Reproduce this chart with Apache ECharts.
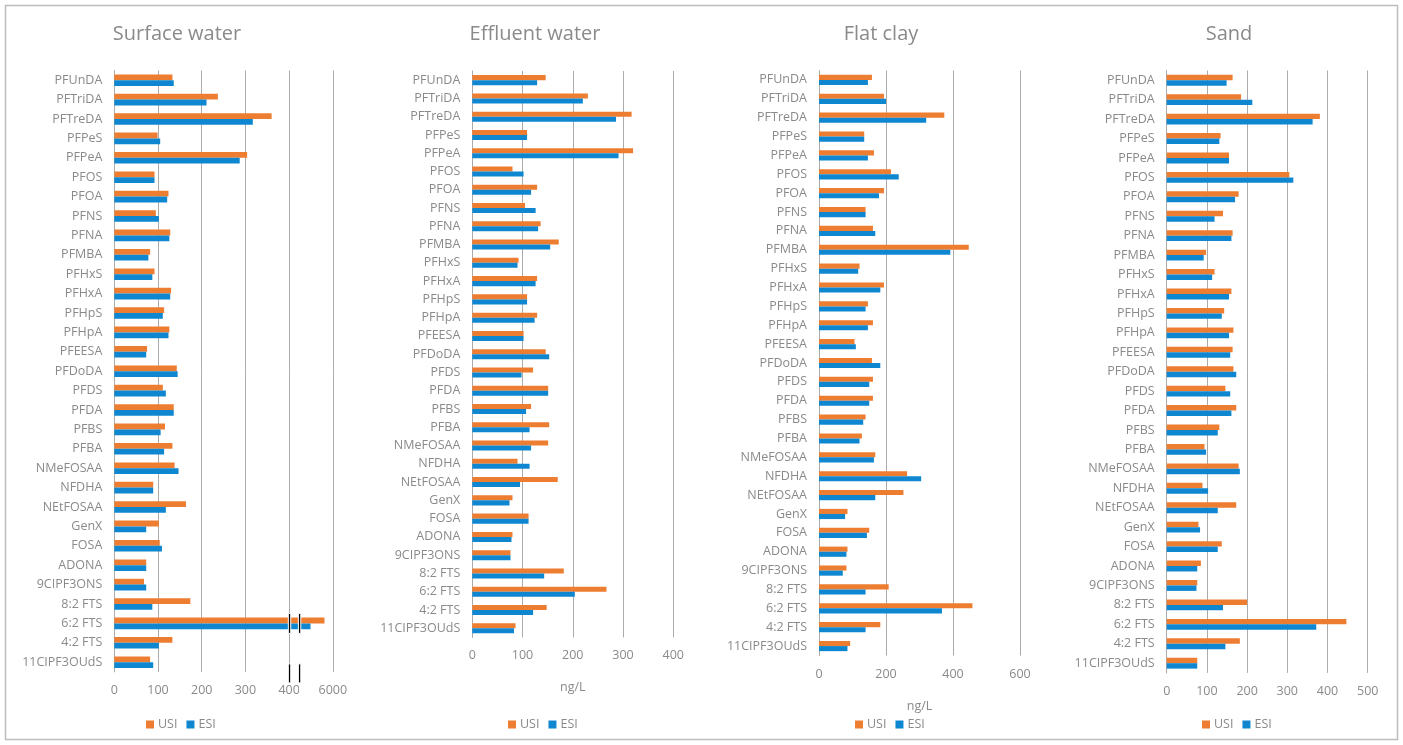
<!DOCTYPE html>
<html><head><meta charset="utf-8">
<script src="https://cdn.jsdelivr.net/npm/echarts@6.0.0/dist/echarts.min.js"></script>
<style>html,body{margin:0;padding:0;background:#fff}#c{width:1403px;height:745px}</style>
</head><body><div id="c"></div>
<script>
// ---- data ----
const categories = ['PFUnDA','PFTriDA','PFTreDA','PFPeS','PFPeA','PFOS','PFOA','PFNS','PFNA','PFMBA','PFHxS','PFHxA','PFHpS','PFHpA','PFEESA','PFDoDA','PFDS','PFDA','PFBS','PFBA','NMeFOSAA','NFDHA','NEtFOSAA','GenX','FOSA','ADONA','9CIPF3ONS','8:2 FTS','6:2 FTS','4:2 FTS','11CIPF3OUdS'];
const panelTitles = ['Surface water','Effluent water','Flat clay','Sand'];
const seriesNames = ['USI','ESI'];

// Surface water uses a broken axis: values above 400 are plotted on the compressed segment (500 = 6000)
const surfaceUSI = [133,237,360,99,304,92,124,95,128,82,92,130,114,126,75,143,111,136,116,133,138,89,164,102,104,73,68,174,481,133,82];
const surfaceESI = [136,211,317,105,287,92,121,102,126,78,87,128,111,124,73,145,118,136,106,114,147,89,118,73,109,73,73,87,449,102,89];
const effluentUSI = [146,230,317,109,320,80,129,105,136,172,92,129,109,129,102,146,121,151,117,153,151,90,170,80,112,80,76,182,267,148,86];
const effluentESI = [129,220,286,109,291,102,117,126,131,155,90,126,109,124,102,153,98,151,107,114,117,114,95,74,112,78,76,143,204,121,83];
const clayUSI = [158,194,374,135,164,215,194,139,161,447,121,194,146,161,106,158,161,161,139,128,168,263,252,85,150,85,82,208,458,183,93];
const clayESI = [146,200,320,135,146,238,179,139,168,392,117,183,139,146,110,183,150,150,132,121,164,305,168,78,143,82,71,139,367,139,85];
const sandUSI = [164,185,381,134,155,305,179,140,164,98,119,161,143,166,164,166,146,173,131,94,179,89,173,79,137,85,76,200,447,182,76];
const sandESI = [149,213,363,131,155,315,170,119,161,92,113,155,137,155,158,173,158,161,127,98,182,103,127,83,127,76,74,140,372,146,76];

const surfaceTicks = ['0','100','200','300','400','6000'];
const effluentTicks = ['0','100','200','300','400'];
const clayTicks = ['0','200','400','600'];
const sandTicks = ['0','100','200','300','400','500'];

// ---- styling / layout ----
const GREY = '#8a8a8a';
const GRID_LINE = '#ababab';
const ORANGE = '#ED7D31';
const BLUE = '#0E87D0';
const FONT = 'Open Sans';

const panels = [
  {title: panelTitles[0], usi: surfaceUSI, esi: surfaceESI, ticks: surfaceTicks, interval: 100,
   grid: {left: 114.3, top: 70.5, width: 218.5, height: 601.4}, gap: '40%', unit: '', cx: 177, legendLeft: 141},
  {title: panelTitles[1], usi: effluentUSI, esi: effluentESI, ticks: effluentTicks, interval: 100,
   grid: {left: 472.3, top: 71, width: 201, height: 566.4}, gap: '45%', unit: 'ng/L', cx: 535, legendLeft: 503},
  {title: panelTitles[2], usi: clayUSI, esi: clayESI, ticks: clayTicks, interval: 200,
   grid: {left: 819, top: 70.5, width: 201, height: 585}, gap: '46%', unit: 'ng/L', cx: 881, legendLeft: 850},
  {title: panelTitles[3], usi: sandUSI, esi: sandESI, ticks: sandTicks, interval: 100,
   grid: {left: 1166.7, top: 70.5, width: 201, height: 602.4}, gap: '44%', unit: '', cx: 1229, legendLeft: 1197}
];

const grids = [], xAxes = [], yAxes = [], series = [], legends = [], graphics = [];

graphics.push({type: 'rect', id: 'border', silent: true,
  shape: {x: 5.5, y: 5.5, width: 1392, height: 734},
  style: {fill: 'none', stroke: '#bdbdbd', lineWidth: 1.5}, z: 0});

panels.forEach((p, i) => {
  grids.push(Object.assign({containLabel: false}, p.grid));
  const ticks = p.ticks, iv = p.interval;
  xAxes.push({
    type: 'value', gridIndex: i, min: 0, max: iv * (ticks.length - 1), interval: iv,
    axisLine: {show: false}, axisTick: {show: false},
    splitLine: {show: true, lineStyle: {color: GRID_LINE, width: 1}},
    axisLabel: {color: GREY, fontFamily: FONT, fontSize: 12.5, margin: 12,
      formatter: v => ticks[Math.round(v / iv)]},
    name: p.unit, nameLocation: 'middle', nameGap: 44,
    nameTextStyle: {color: GREY, fontFamily: FONT, fontSize: 12.5}
  });
  yAxes.push({
    type: 'category', gridIndex: i, data: categories, inverse: true,
    axisLine: {show: true, lineStyle: {color: GRID_LINE, width: 1}},
    axisTick: {show: false},
    axisLabel: {color: GREY, fontFamily: FONT, fontSize: 12.5, margin: 12, interval: 0}
  });
  series.push({type: 'bar', name: seriesNames[0], xAxisIndex: i, yAxisIndex: i, data: p.usi,
    itemStyle: {color: ORANGE}, barGap: '0%', barCategoryGap: p.gap, animation: false});
  series.push({type: 'bar', name: seriesNames[1], xAxisIndex: i, yAxisIndex: i, data: p.esi,
    itemStyle: {color: BLUE}, barGap: '0%', barCategoryGap: p.gap, animation: false});
  legends.push({data: seriesNames, left: p.legendLeft, top: 713, icon: 'rect',
    itemWidth: 8, itemHeight: 8, itemGap: 9,
    textStyle: {color: GREY, fontFamily: FONT, fontSize: 12.5, padding: [0, 0, 0, -1]}, selectedMode: false});
  graphics.push({type: 'text', id: 'title' + i, silent: true, x: p.cx, y: 34,
    style: {text: p.title, fill: GREY, font: '20px "Open Sans"', textAlign: 'center', textVerticalAlign: 'middle'}});
});

const chart = echarts.init(document.getElementById('c'), null, {renderer: 'canvas'});
chart.setOption({
  animation: false,
  backgroundColor: '#fff',
  grid: grids, xAxis: xAxes, yAxis: yAxes, series: series, legend: legends, graphic: graphics
});

// ---- axis-break marks on the Surface water panel, positioned through the axes ----
const breakValues = [401, 424];
const yBar = chart.convertToPixel({yAxisIndex: 0}, '6:2 FTS');
const yLast = chart.convertToPixel({yAxisIndex: 0}, categories[categories.length - 1]);
const yPrev = chart.convertToPixel({yAxisIndex: 0}, categories[categories.length - 2]);
const band = yLast - yPrev;
const axisBottom = yLast + band / 2;
const marks = [];
breakValues.forEach((v, k) => {
  const x = chart.convertToPixel({xAxisIndex: 0}, v);
  marks.push({type: 'rect', id: 'barBreak' + k, silent: true, z: 100,
    shape: {x: x - 1.2, y: yBar - 10, width: 2.4, height: 20},
    style: {fill: '#000', stroke: '#fff', lineWidth: 1}});
  marks.push({type: 'rect', id: 'axisBreak' + k, silent: true, z: 100,
    shape: {x: x - 1.2, y: axisBottom - 8, width: 2.4, height: 19},
    style: {fill: '#000', stroke: '#fff', lineWidth: 1}});
});
const xCut = chart.convertToPixel({xAxisIndex: 0}, breakValues[1]);
marks.push({type: 'rect', id: 'labelCut', silent: true, z: 99,
  shape: {x: xCut - 0.5, y: axisBottom + 11, width: 5, height: 16},
  style: {fill: '#fff'}});
chart.setOption({graphic: marks});
</script>
</body></html>
